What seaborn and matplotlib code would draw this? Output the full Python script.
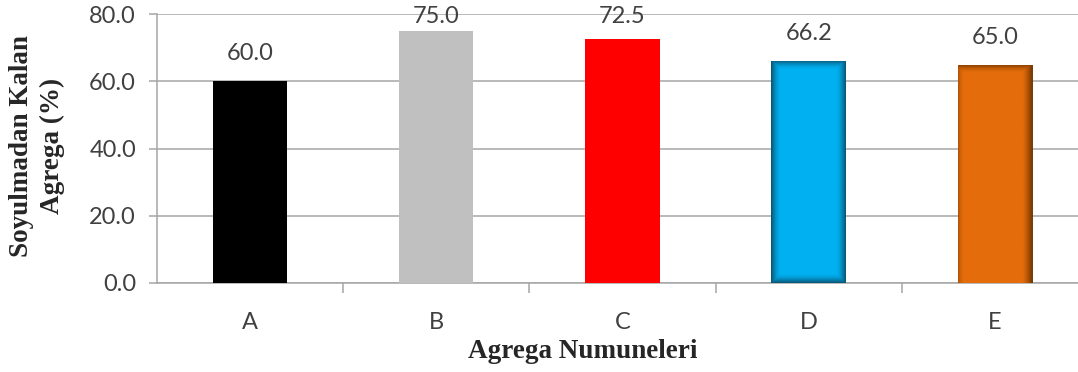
import seaborn as sns
import matplotlib.pyplot as plt
import numpy as np
import pandas as pd
from matplotlib.colors import to_rgb

# data
categories = ['A', 'B', 'C', 'D', 'E']
values = [60.0, 75.0, 72.5, 66.2, 65.0]
bar_colors = ['#000000', '#C0C0C0', '#FF0000', '#00B0F0', '#E46C0A']
shade_colors = {3: '#0B4F6C', 4: '#6B3200'}

df = pd.DataFrame({'Agrega': categories, 'Deger': values})

sns.set_theme(style='white')
plt.rcParams['font.family'] = ['Lato', 'DejaVu Sans']

fig = plt.figure(figsize=(10.78, 3.72), dpi=100)
ax = fig.add_axes([0.1456, 0.240, 0.8636, 0.7216])

sns.barplot(data=df, x='Agrega', y='Deger', hue='Agrega', palette=bar_colors,
            width=0.4, legend=False, ax=ax, saturation=1, zorder=3,
            linewidth=0)

ax.set_xlim(-0.5, 4.5)
ax.set_ylim(0, 80)
ax.set_yticks(np.arange(0, 81, 20))
ax.set_yticklabels([f'{v:.1f}' for v in np.arange(0, 81, 20)])
ax.yaxis.grid(True, color='#A6A6A6', lw=1.1, zorder=0)
ax.set_axisbelow(True)

for s in ['top', 'right']:
    ax.spines[s].set_visible(False)
for s in ['left', 'bottom']:
    ax.spines[s].set_color('#A6A6A6')
    ax.spines[s].set_linewidth(1.1)

ax.tick_params(axis='y', which='major', length=6, width=1.1, color='#A6A6A6',
               labelsize=17, labelcolor='#404040', pad=9, left=True)
ax.tick_params(axis='x', which='major', length=0, labelsize=17,
               labelcolor='#404040', pad=21)
ax.set_xticks(np.arange(0.5, 4.5, 1), minor=True)
ax.tick_params(axis='x', which='minor', length=7, width=1.1, color='#A6A6A6',
               bottom=True)
ax.set_xlabel('')
ax.set_ylabel('')

# soft inner shading on bars D and E
patches = ax.patches
for i, dark in shade_colors.items():
    p = patches[i]
    x0, y0 = p.get_x(), p.get_y()
    w, h = p.get_width(), p.get_height()
    nx, ny = 60, 300
    gx = np.linspace(0, 1, nx)
    gy = np.linspace(0, 1, ny)
    X, Y = np.meshgrid(gx, gy)
    if i == 3:
        dx = np.minimum(X, 1 - X) * w * 186
        dy = np.minimum(Y, 1 - Y) * h * 3.36
        d = np.minimum(dx, dy)
        a = np.clip(1 - d / 9, 0, 1) ** 1.6 * 0.9
    else:
        dr = (1 - X) * w * 186
        dl = X * w * 186
        dt = (1 - Y) * h * 3.36
        a = np.maximum.reduce([np.clip(1 - dr / 10, 0, 1) ** 1.3 * 0.95,
                               np.clip(1 - dl / 6, 0, 1) ** 2 * 0.4,
                               np.clip(1 - dt / 8, 0, 1) ** 1.5 * 0.85])
    img = np.zeros((ny, nx, 4))
    img[..., :3] = to_rgb(dark)
    img[..., 3] = a
    im = ax.imshow(img, extent=[x0, x0 + w, y0, y0 + h], origin='lower',
                   aspect='auto', zorder=4, interpolation='bilinear')
    im.set_clip_path(p)
ax.set_xlim(-0.5, 4.5)
ax.set_ylim(0, 80)

# value labels
for i, v in enumerate(values):
    ax.text(i, min(v + 8.2, 79.2), f'{v:.1f}', ha='center', va='center',
            fontsize=17, color='#404040', zorder=5)

fig.text(583 / 1078, 1 - 352 / 372, 'Agrega Numuneleri', ha='center',
         va='center', fontsize=19.5, fontweight='bold',
         family=['Liberation Serif', 'DejaVu Serif'])
fig.text(37 / 1078, 1 - 146 / 372, 'Soyulmadan Kalan\nAgrega (%)',
         ha='center', va='center', rotation=90, fontsize=19.5,
         fontweight='bold', linespacing=1.3,
         family=['Liberation Serif', 'DejaVu Serif'])

fig.savefig('out.png', dpi=100)
